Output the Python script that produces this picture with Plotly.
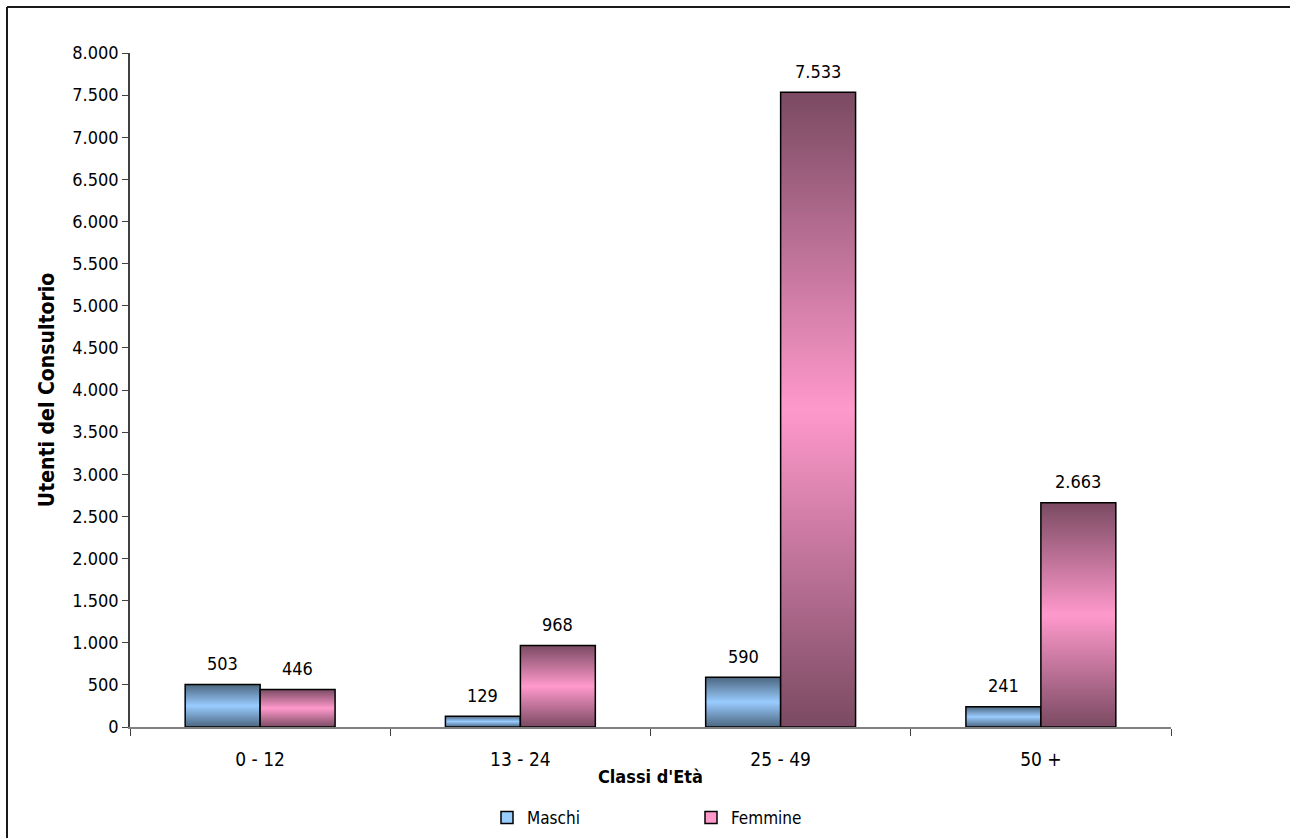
import plotly.graph_objects as go

categories = ["0 - 12", "13 - 24", "25 - 49", "50 +"]
maschi = [503, 129, 590, 241]
femmine = [446, 968, 7533, 2663]
series_names = ["Maschi", "Femmine"]
y_ticks = list(range(0, 8001, 500))

FONT = "Tahoma, 'DejaVu Sans Condensed', 'DejaVu Sans', sans-serif"
BAR_W = 0.288
styles = {
    "Maschi": dict(dark="#4C6680", light="#99CCFF"),
    "Femmine": dict(dark="#7A4A62", light="#FF99CC"),
}


def fmt(v):
    return f"{v:,}".replace(",", ".")


fig = go.Figure()
annotations = []
for s_idx, (name, values) in enumerate(zip(series_names, [maschi, femmine])):
    st = styles[name]
    for i, v in enumerate(values):
        x0 = i - BAR_W if s_idx == 0 else i
        x1 = x0 + BAR_W
        fig.add_trace(go.Scatter(
            x=[x0, x0, x1, x1, x0], y=[0, v, v, 0, 0],
            mode="lines", fill="toself",
            line=dict(color="#000000", width=1.5),
            fillgradient=dict(type="vertical", start=0, stop=v,
                              colorscale=[[0, st["dark"]], [0.5, st["light"]], [1, st["dark"]]]),
            showlegend=False, hoverinfo="text",
            text=f"{name} {categories[i]}: {fmt(v)}",
        ))
        annotations.append(dict(
            x=(x0 + x1) / 2, y=v, xref="x", yref="y", text=fmt(v),
            showarrow=False, yanchor="middle", yshift=21,
            font=dict(family=FONT, size=18, color="#000000"),
        ))
    # legend-only entry
    fig.add_trace(go.Bar(
        x=[None], y=[None], name=name,
        marker=dict(color=st["light"], line=dict(color="#000000", width=1.5)),
    ))

# outer chart-area border (only top and left edges fall inside the picture)
bx0 = (7 - 130) / 1041
by1 = (727 - 7) / 674
border = [
    dict(type="line", xref="paper", yref="paper", x0=bx0, x1=1.2, y0=by1, y1=by1,
         line=dict(color="#1a1a1a", width=2), layer="below"),
    dict(type="line", xref="paper", yref="paper", x0=bx0, x1=bx0, y0=-0.3, y1=by1,
         line=dict(color="#1a1a1a", width=2), layer="below"),
]

fig.update_layout(
    width=1290, height=838,
    margin=dict(l=130, r=119, t=53, b=111, autoexpand=False),
    paper_bgcolor="white", plot_bgcolor="white",
    separators=",.",
    font=dict(family=FONT, size=18, color="#000000"),
    showlegend=True,
    legend=dict(orientation="h", xref="container", yref="container",
                x=691 / 1290, xanchor="center", y=(838 - 818) / 838, yanchor="middle",
                font=dict(family=FONT, size=17), entrywidth=159, entrywidthmode="pixels",
                itemwidth=30, bgcolor="rgba(0,0,0,0)"),
    annotations=annotations,
    shapes=border,
)

fig.update_xaxes(
    range=[-0.5, 3.5],
    tickmode="array", tickvals=list(range(len(categories))), ticktext=categories,
    ticks="outside", ticklen=14, tickcolor="rgba(0,0,0,0)",
    minor=dict(tickmode="array", tickvals=[i - 0.5 for i in range(len(categories) + 1)],
               ticks="outside", ticklen=7, tickcolor="#404040", tickwidth=1),
    showline=True, linecolor="#808080", linewidth=1.5,
    showgrid=False, zeroline=False, automargin=False,
    title=dict(text="<b>Classi d'Età</b>", standoff=2, font=dict(family=FONT, size=18)),
    tickfont=dict(family=FONT, size=19),
)
fig.update_yaxes(
    range=[0, 8000], tickmode="array", tickvals=y_ticks,
    ticktext=[fmt(t) for t in y_ticks],
    ticks="outside", ticklen=6, tickcolor="#404040",
    showline=True, linecolor="#404040", linewidth=1.5,
    showgrid=False, zeroline=False, automargin=False,
    title=dict(text="<b>Utenti del Consultorio</b>", standoff=12, font=dict(family=FONT, size=21)),
    tickfont=dict(family=FONT, size=18),
)

fig.write_html("out.html", config={"displayModeBar": False},
               post_script="document.body.style.margin='0';document.body.style.overflow='hidden';")
